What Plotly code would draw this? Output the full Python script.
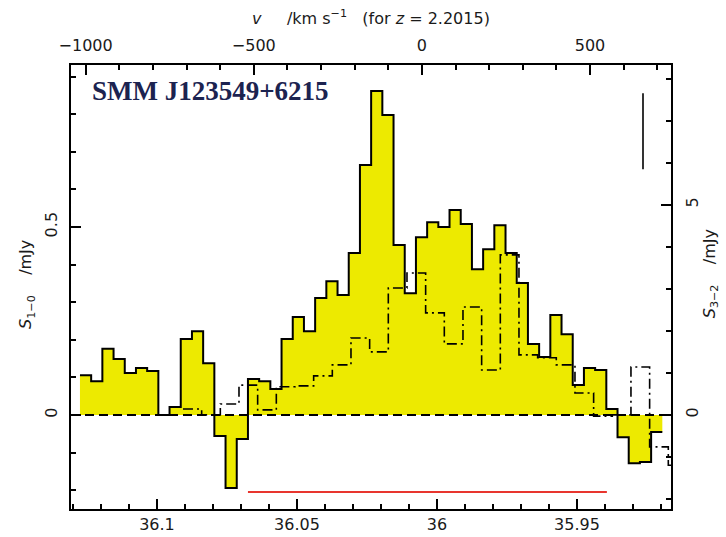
import numpy as np
import plotly.graph_objects as go

# ---------------- data ----------------
C_KMS = 299792.458
NU0 = 115.2712018 / 3.2015          # GHz, CO(1-0) redshifted to z = 2.2015

# CO(1-0) spectrum (solid, yellow), left axis, mJy
CO10_FIRST_EDGE = 36.1275            # GHz
CO10_CHAN = 0.004                    # GHz
S10 = [0.106, 0.090, 0.176, 0.149, 0.112, 0.125, 0.117, 0.000, 0.021, 0.202,
       0.223, 0.138, -0.056, -0.194, -0.064, 0.096, 0.090, 0.069, 0.202, 0.261,
       0.223, 0.311, 0.356, 0.319, 0.431, 0.665, 0.862, 0.798, 0.452, 0.324,
       0.473, 0.513, 0.500, 0.545, 0.508, 0.388, 0.441, 0.505, 0.431, 0.351,
       0.189, 0.154, 0.266, 0.215, 0.080, 0.125, 0.120, 0.016, -0.059, -0.128,
       -0.125, -0.045]

# CO(3-2) spectrum (dot-dash), right axis, mJy, on the CO(1-0) frequency scale
CO32_FIRST_EDGE = 36.0907
CO32_CHAN = 0.0066667
S32 = [0.14, 0.00, 0.26, 0.71, 0.12, 0.67, 0.69, 0.93, 1.19, 1.83,
       1.50, 3.02, 3.38, 2.43, 1.69, 2.57, 1.07, 3.81, 1.43, 1.36,
       1.19, 0.52, -0.03, 0.00, 1.14, -0.76, -1.20]

FREQ_RANGE = [36.1307, 35.9164]
S10_RANGE = [-0.25, 0.931]
S32_RANGE = [-2.24, 8.33]

FREQ_TICKS = [36.1, 36.05, 36.0, 35.95]
FREQ_LABELS = ["36.1", "36.05", "36", "35.95"]
VEL_TICKS = [-1000, -500, 0, 500]
VEL_LABELS = ["\u22121000", "\u2212500", "0", "500"]
S10_TICKS = [0, 0.5]
S10_LABELS = ["0", "0.5"]
S32_TICKS = [0, 5]
S32_LABELS = ["0", "5"]

LINE_FREQ = [36.0675, 35.9393]       # red bar
LINE_LEVEL = -0.205
ERR_FREQ = 35.9264                   # error bar
ERR_RANGE = [0.654, 0.856]

SOURCE = "SMM J123549+6215"

# ---------------- figure ----------------
def vel(f):
    return C_KMS * (NU0 - f) / NU0

e10 = CO10_FIRST_EDGE - CO10_CHAN * np.arange(len(S10) + 1)
y10 = list(S10) + [S10[-1]]
e32 = CO32_FIRST_EDGE - CO32_CHAN * np.arange(len(S32) + 1)
y32 = list(S32) + [S32[-1]]

YELLOW = "rgb(237,234,0)"
FONT = "DejaVu Sans"
TICKFONT = dict(family=FONT, size=16, color="#1a1a1a")

fig = go.Figure()
fig.add_trace(go.Scatter(x=e10, y=y10, mode="lines", line_shape="hv",
                         line=dict(color="black", width=2),
                         fill="tozeroy", fillcolor=YELLOW,
                         xaxis="x", yaxis="y", showlegend=False, hoverinfo="skip"))
fig.add_trace(go.Scatter(x=FREQ_RANGE, y=[0, 0], mode="lines",
                         line=dict(color="black", width=1.8, dash="9px,5px"),
                         xaxis="x", yaxis="y", showlegend=False, hoverinfo="skip"))
fig.add_trace(go.Scatter(x=e32, y=y32, mode="lines", line_shape="hv",
                         line=dict(color="black", width=1.6, dash="10px,4px,2px,4px"),
                         xaxis="x", yaxis="y2", showlegend=False, hoverinfo="skip"))
fig.add_trace(go.Scatter(x=[vel(FREQ_RANGE[0])], y=[None], mode="lines",
                         xaxis="x2", yaxis="y", showlegend=False, hoverinfo="skip"))

fig.add_shape(type="line", xref="x", yref="y", x0=LINE_FREQ[0], x1=LINE_FREQ[1],
              y0=LINE_LEVEL, y1=LINE_LEVEL, line=dict(color="#E8352E", width=2))
fig.add_shape(type="line", xref="x", yref="y", x0=ERR_FREQ, x1=ERR_FREQ,
              y0=ERR_RANGE[0], y1=ERR_RANGE[1], line=dict(color="black", width=1.6))

axis_common = dict(showline=True, linecolor="black", linewidth=2, mirror=False,
                   ticks="inside", ticklen=10, tickwidth=1.5, tickcolor="black",
                   showgrid=False, zeroline=False, tickfont=TICKFONT,
                   automargin=False)

fig.update_layout(
    width=726, height=537,
    margin=dict(l=71, r=55, t=65, b=28, autoexpand=False),
    paper_bgcolor="white", plot_bgcolor="white",
    xaxis=dict(range=FREQ_RANGE, tickvals=FREQ_TICKS, ticktext=FREQ_LABELS,
               side="bottom", anchor="y", ticklabelstandoff=0,
               minor=dict(dtick=0.01, tick0=36.0, ticks="inside", ticklen=5,
                          tickwidth=1.5, tickcolor="black"),
               **axis_common),
    xaxis2=dict(range=[vel(FREQ_RANGE[0]), vel(FREQ_RANGE[1])], overlaying="x",
                side="top", anchor="y", tickvals=VEL_TICKS, ticktext=VEL_LABELS,
                ticklabelstandoff=6,
                minor=dict(dtick=100, tick0=0, ticks="inside", ticklen=5,
                           tickwidth=1.5, tickcolor="black"),
                **axis_common),
    yaxis=dict(range=S10_RANGE, tickvals=S10_TICKS, ticktext=S10_LABELS,
               side="left", anchor="x", tickangle=-90, ticklabelstandoff=6,
               minor=dict(dtick=0.1, tick0=0, ticks="inside", ticklen=5,
                          tickwidth=1.5, tickcolor="black"),
               **axis_common),
    yaxis2=dict(range=S32_RANGE, tickvals=S32_TICKS, ticktext=S32_LABELS,
                overlaying="y", side="right", anchor="x", tickangle=-90,
                ticklabelstandoff=6,
                minor=dict(dtick=1, tick0=0, ticks="inside", ticklen=5,
                           tickwidth=1.5, tickcolor="black"),
                **axis_common),
)

fig.add_annotation(text="<b>" + SOURCE + "</b>", xref="paper", yref="paper",
                   x=0.031, y=0.9414, xanchor="left", yanchor="middle", showarrow=False,
                   font=dict(family="Liberation Serif", size=27, color="#1c2350"))
fig.add_annotation(text="<i>v</i>     /km s<sup>\u22121</sup>   (for <i>z</i> = 2.2015)",
                   xref="paper", yref="paper", x=0.50, y=1.106,
                   xanchor="center", yanchor="middle", showarrow=False,
                   font=dict(family=FONT, size=16, color="#1a1a1a"))
fig.add_annotation(text="<i>S</i><sub>1\u22120</sub>    /mJy",
                   xref="paper", yref="paper", x=-0.073, y=0.505, textangle=-90,
                   xanchor="center", yanchor="middle", showarrow=False,
                   font=dict(family=FONT, size=16, color="#1a1a1a"))
fig.add_annotation(text="<i>S</i><sub>3\u22122</sub>    /mJy",
                   xref="paper", yref="paper", x=1.066, y=0.53, textangle=-90,
                   xanchor="center", yanchor="middle", showarrow=False,
                   font=dict(family=FONT, size=16, color="#1a1a1a"))

fig.write_html("out.html")
